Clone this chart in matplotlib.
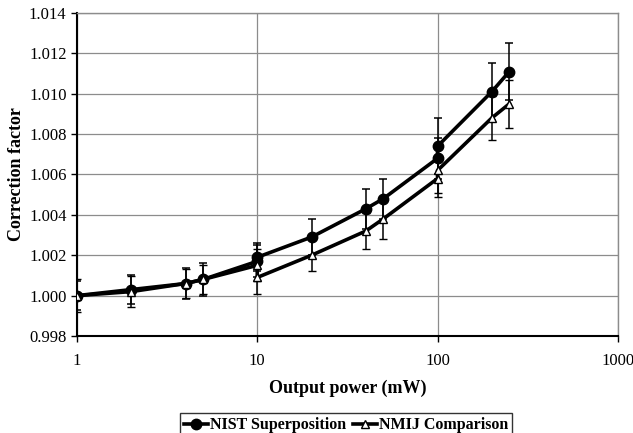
import numpy as np
import matplotlib.pyplot as plt
from matplotlib.ticker import FixedLocator, FixedFormatter

plt.rcParams['font.family'] = ['Liberation Serif', 'DejaVu Serif']

power = [1, 2, 4, 5, 10, 10, 20, 40, 50, 100, 100, 200, 250]

nist = [1.0000, 1.0003, 1.0006, 1.0008, 1.0017, 1.0019, 1.0029,
        1.0043, 1.0048, 1.0068, 1.0074, 1.0101, 1.0111]
nist_err = [0.0007, 0.0007, 0.00075, 0.0008, 0.0008, 0.0007, 0.0009,
            0.0010, 0.0010, 0.0010, 0.0014, 0.0014, 0.0014]

nmij = [1.0000, 1.0002, 1.0006, 1.0008, 1.0015, 1.0009, 1.0020,
        1.0032, 1.0038, 1.0058, 1.0062, 1.0088, 1.0095]
nmij_err = [0.0008, 0.00075, 0.0007, 0.0007, 0.0008, 0.0008, 0.0008,
            0.0009, 0.0010, 0.0009, 0.0011, 0.0011, 0.0012]

xticks = [1, 10, 100, 1000]
yticks = np.arange(0.998, 1.0141, 0.002)

fig = plt.figure(figsize=(6.33, 4.33), dpi=100)
ax = fig.add_axes([0.1216, 0.224, 0.8544, 0.746])

e1 = ax.errorbar(power, nist, yerr=nist_err, color='black', lw=2.6,
                 marker='o', ms=7.5, mfc='black', mec='black',
                 ecolor='black', elinewidth=1.1, capsize=3, capthick=1.1,
                 zorder=3)
e2 = ax.errorbar(power, nmij, yerr=nmij_err, color='black', lw=2.6,
                 marker='^', ms=6, mfc='white', mec='black', mew=1,
                 ecolor='black', elinewidth=1.1, capsize=3, capthick=1.1,
                 zorder=3)

ax.set_xscale('log')
ax.set_xlim(1, 1000)
ax.set_ylim(0.998, 1.014)
ax.xaxis.set_major_locator(FixedLocator(xticks))
ax.xaxis.set_major_formatter(FixedFormatter([str(t) for t in xticks]))
ax.xaxis.set_minor_locator(FixedLocator([]))
ax.set_yticks(yticks)
ax.set_yticklabels(['%.3f' % v for v in yticks])
ax.tick_params(labelsize=12, length=4, width=1, direction='out')
ax.tick_params(axis='x', pad=8)

ax.grid(True, color='#8c8c8c', lw=0.9)
ax.set_axisbelow(True)
for s in ['top', 'right']:
    ax.spines[s].set_color('#8c8c8c')
    ax.spines[s].set_linewidth(1)
for s in ['left', 'bottom']:
    ax.spines[s].set_color('black')
    ax.spines[s].set_linewidth(1.5)

ax.set_xlabel('Output power (mW)', fontsize=13, fontweight='bold', labelpad=8)
ax.set_ylabel('Correction factor', fontsize=13, fontweight='bold', labelpad=3)

leg = fig.legend([e1[0], e2[0]], ['NIST Superposition', 'NMIJ Comparison'],
                 loc='lower center', bbox_to_anchor=(0.547, -0.01), ncol=2,
                 frameon=True, fancybox=False, edgecolor='black',
                 prop={'weight': 'bold', 'size': 11.5}, handlelength=1.5,
                 handletextpad=0.15, columnspacing=0.4, borderpad=0.25,
                 borderaxespad=0)
leg.get_frame().set_linewidth(1)

fig.savefig('out.png', dpi=100)
